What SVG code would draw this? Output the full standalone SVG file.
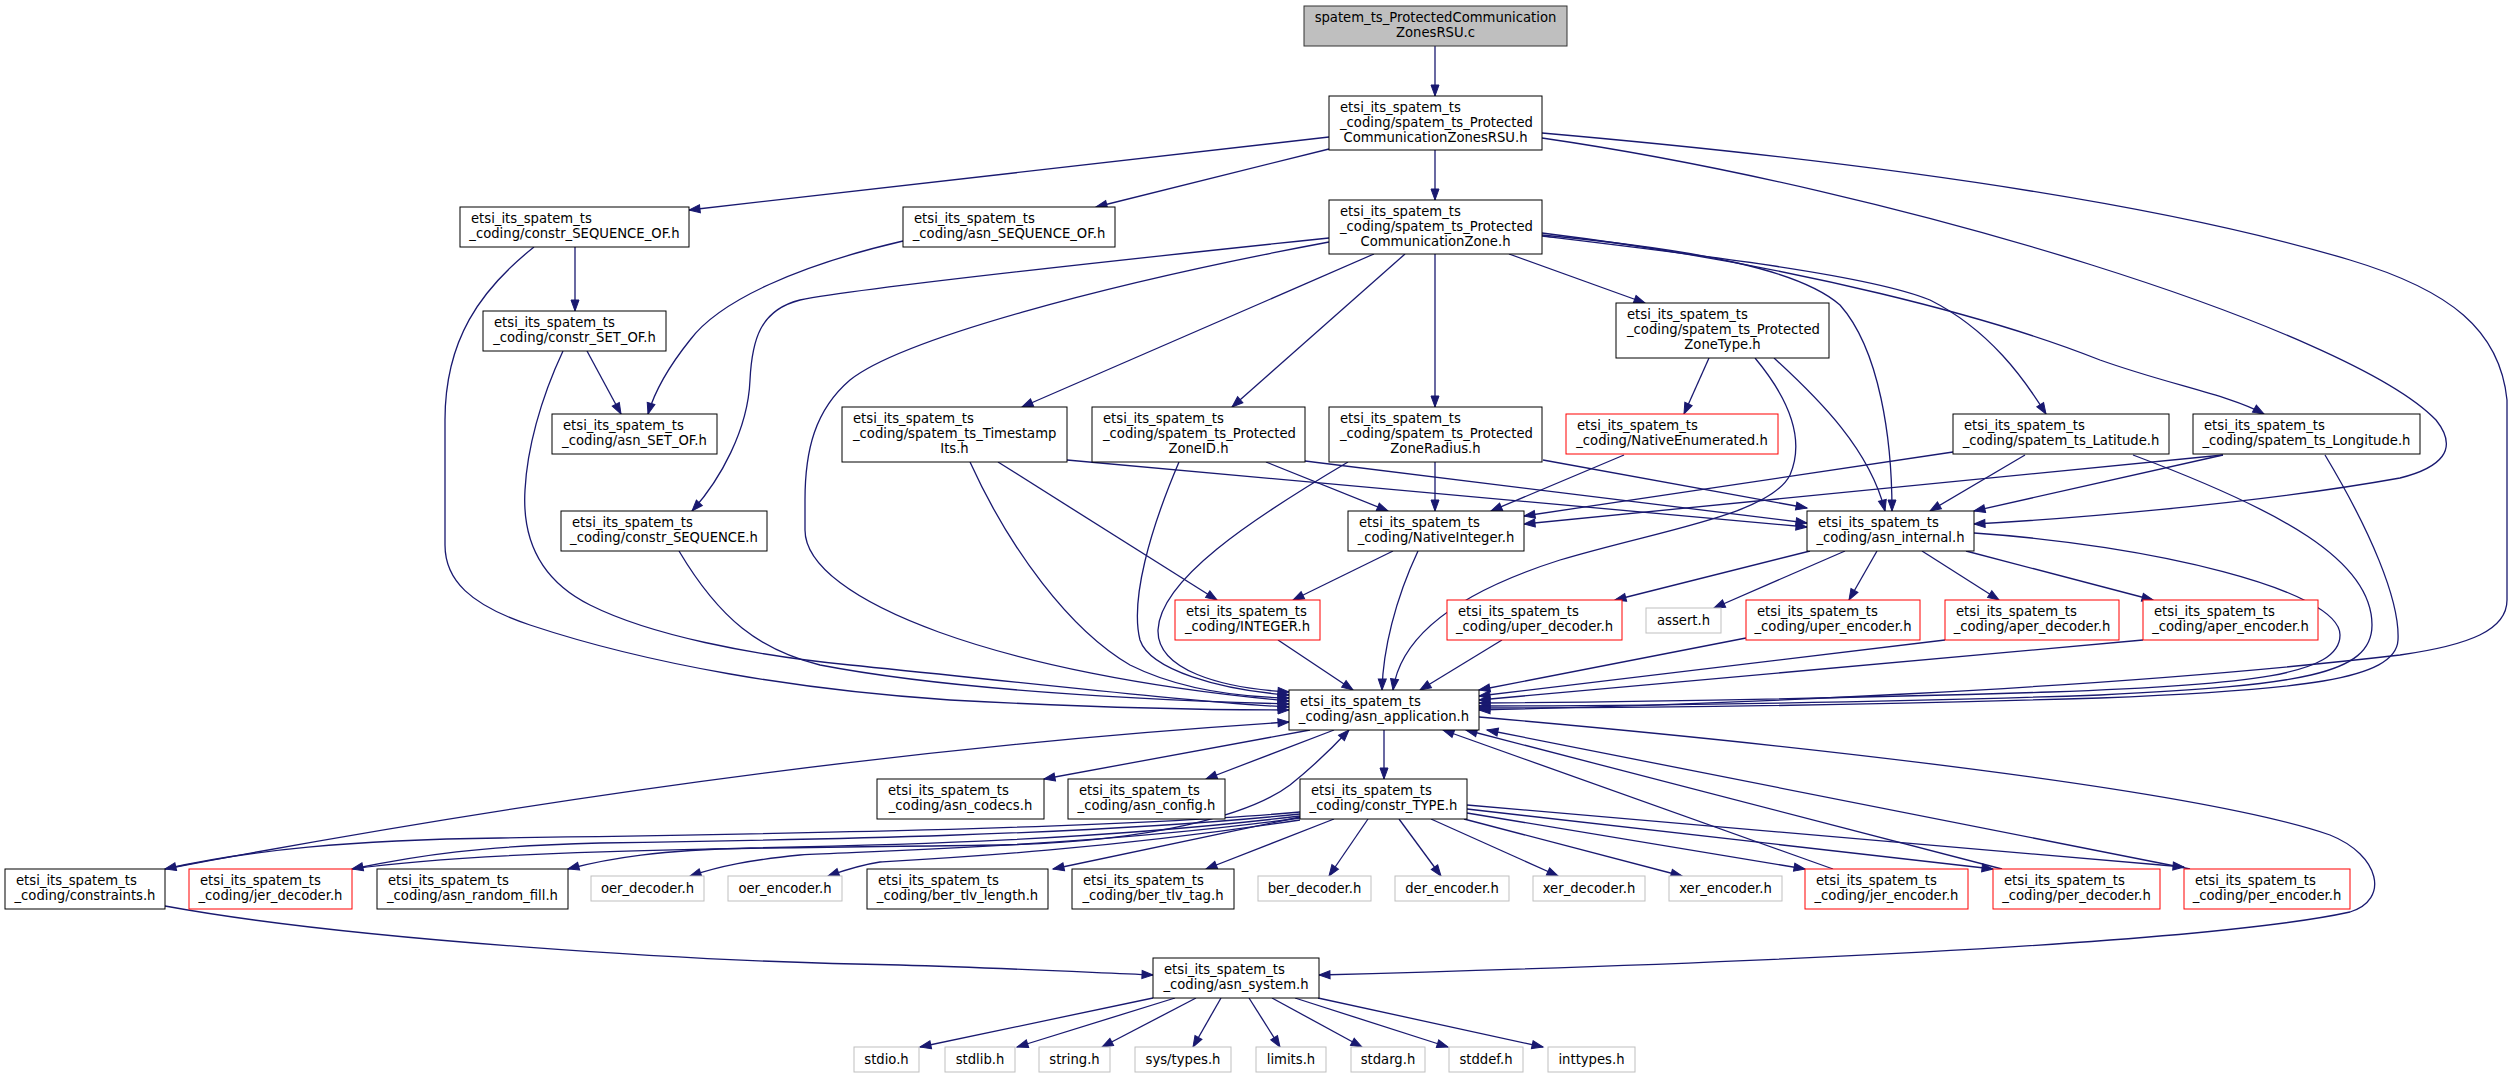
<svg xmlns="http://www.w3.org/2000/svg" width="2513" height="1079" viewBox="0 0 2513 1079">
<style>
rect{fill:#fff;stroke:#000;stroke-width:1}
.root rect{fill:#bfbfbf;stroke:#333}
.r rect{stroke:#f00}
.g rect{stroke:#bfbfbf}
text{font-family:"DejaVu Sans","Liberation Sans",sans-serif;font-size:13.2px;fill:#000}
.m{text-anchor:middle}
#edges path{fill:none;stroke:#191970;stroke-width:1.3;marker-end:url(#a)}
</style>
<defs>
<marker id="a" markerWidth="12" markerHeight="9" refX="11" refY="4" orient="auto" markerUnits="userSpaceOnUse" overflow="visible"><path d="M0,0 L11,4 L0,8 z" fill="#191970" stroke="#191970" stroke-width="1"/></marker>
</defs>
<rect x="0" y="0" width="2513" height="1079" style="fill:#fff;stroke:none"/>
<g id="edges">
<path d="M1435,46 L1435,96"/>
<path d="M1435,150 L1435,200"/>
<path d="M1329,137 L689,210"/>
<path d="M1329,149 L1096,207"/>
<path d="M1542,138 C1900,190 2350,330 2436,420 C2460,450 2440,468 2400,478 C2250,505 2050,520 1974,524"/>
<path d="M1542,133 C1850,160 2150,200 2350,260 C2450,290 2500,330 2507,400 L2507,600 C2507,630 2470,645 2400,655 C2100,690 1700,705 1479,710"/>
<path d="M1329,238 C1100,262 850,290 800,300 C760,310 752,340 750,380 C748,430 720,480 692,511"/>
<path d="M1329,242 C1100,285 900,340 850,380 C815,410 805,450 805,500 L805,530 C805,600 1000,675 1289,701"/>
<path d="M1374,254 L1022,407"/>
<path d="M1405,254 L1232,407"/>
<path d="M1435,254 L1435,407"/>
<path d="M1509,254 L1645,303"/>
<path d="M1542,236 C1700,255 1870,275 1930,300 C1990,330 2025,380 2046,414"/>
<path d="M1542,233 C1800,265 2000,320 2100,360 C2170,385 2230,395 2264,414"/>
<path d="M1542,235 C1700,250 1800,270 1840,305 C1880,350 1892,440 1892,511"/>
<path d="M575,247 L575,311"/>
<path d="M534,247 C480,290 445,340 445,420 L445,545 C445,580 470,605 530,625 C650,665 800,690 950,700 C1100,708 1220,710 1289,710"/>
<path d="M903,241 C800,265 720,300 690,340 C670,365 655,390 648,414"/>
<path d="M587,351 L621,414"/>
<path d="M563,351 C540,400 527,450 525,490 C522,540 540,580 590,605 C650,635 750,655 850,665 C1000,680 1200,703 1289,707"/>
<path d="M679,551 C720,620 760,650 820,665 C950,690 1150,700 1289,704"/>
<path d="M1067,460 L1807,527"/>
<path d="M998,462 L1217,600"/>
<path d="M970,462 C1010,550 1070,630 1130,665 C1180,690 1240,697 1289,698"/>
<path d="M1266,462 L1388,511"/>
<path d="M1305,461 L1807,523"/>
<path d="M1179,462 C1150,530 1130,600 1140,640 C1150,670 1220,690 1289,695"/>
<path d="M1435,462 L1435,511"/>
<path d="M1543,460 L1807,508"/>
<path d="M1348,462 C1250,520 1160,580 1158,630 C1157,670 1220,688 1289,692"/>
<path d="M1709,358 L1684,414"/>
<path d="M1774,358 C1820,400 1870,450 1885,511"/>
<path d="M1755,358 C1790,400 1805,440 1790,475 C1770,515 1660,530 1560,560 C1450,595 1400,640 1393,690"/>
<path d="M1624,455 L1491,511"/>
<path d="M1953,452 L1524,516"/>
<path d="M2025,455 L1930,511"/>
<path d="M2133,455 C2280,510 2372,560 2372,625 C2372,675 2300,685 2100,695 C1900,702 1650,706 1479,706"/>
<path d="M2223,455 L1524,524"/>
<path d="M2223,455 L1974,511"/>
<path d="M2325,455 C2370,530 2400,600 2398,640 C2396,680 2300,690 2100,698 C1900,704 1650,708 1479,708"/>
<path d="M1393,551 L1293,600"/>
<path d="M1418,551 C1395,600 1383,650 1382,690"/>
<path d="M1810,551 L1615,600"/>
<path d="M1845,551 L1714,608"/>
<path d="M1877,551 L1849,600"/>
<path d="M1922,551 L1999,600"/>
<path d="M1966,551 L2153,600"/>
<path d="M1974,533 C2150,545 2340,590 2340,635 C2340,675 2250,685 2050,692 C1850,698 1650,702 1479,703"/>
<path d="M1278,640 L1353,690"/>
<path d="M1502,640 L1420,690"/>
<path d="M1746,638 L1479,690"/>
<path d="M1945,640 L1479,696"/>
<path d="M2143,640 L1479,700"/>
<path d="M1310,730 L1044,779"/>
<path d="M1334,730 L1206,779"/>
<path d="M1384,730 L1384,779"/>
<path d="M1479,717 C1800,745 2200,790 2330,835 C2380,855 2390,900 2350,912 C2200,945 1700,965 1319,975"/>
<path d="M165,869 C450,815 850,750 1289,722"/>
<path d="M165,906 C350,940 700,962 900,965 C1000,968 1080,972 1153,975"/>
<path d="M352,869 C500,848 800,848 1000,845 C1150,842 1250,815 1290,785 C1315,765 1335,745 1349,730"/>
<path d="M1833,869 L1443,730"/>
<path d="M2002,869 L1466,730"/>
<path d="M2190,869 L1487,730"/>
<path d="M1300,812 C1100,830 700,835 500,838 C350,840 250,850 165,869"/>
<path d="M1300,814 C1100,835 800,840 600,843 C480,846 420,855 352,869"/>
<path d="M1300,816 C1100,840 900,845 750,848 C660,850 610,858 568,869"/>
<path d="M1300,818 C1100,845 900,850 800,855 C750,860 720,866 690,876"/>
<path d="M1300,820 C1100,850 950,858 880,862 C860,865 845,870 828,876"/>
<path d="M1300,817 L1053,869"/>
<path d="M1334,819 L1206,869"/>
<path d="M1368,819 L1329,876"/>
<path d="M1399,819 L1441,876"/>
<path d="M1431,819 L1558,876"/>
<path d="M1464,819 L1682,876"/>
<path d="M1467,813 L1805,869"/>
<path d="M1467,809 L1993,869"/>
<path d="M1467,805 L2184,867"/>
<path d="M1153,998 L920,1047"/>
<path d="M1175,998 L1017,1047"/>
<path d="M1196,998 L1102,1047"/>
<path d="M1221,998 L1193,1047"/>
<path d="M1249,998 L1280,1047"/>
<path d="M1272,998 L1362,1047"/>
<path d="M1295,998 L1448,1047"/>
<path d="M1318,998 L1543,1047"/>
</g>
<g id="n0" class="root"><rect x="1304" y="6" width="263" height="40"/><text class="m" x="1435.5" y="21.5">spatem_ts_ProtectedCommunication</text><text class="m" x="1435.5" y="37">ZonesRSU.c</text></g>
<g id="n1"><rect x="1329" y="96" width="213" height="54"/><text x="1340" y="111.5">etsi_its_spatem_ts</text><text x="1340" y="126.5">_coding/spatem_ts_Protected</text><text class="m" x="1435.5" y="141.5">CommunicationZonesRSU.h</text></g>
<g id="n2"><rect x="1329" y="200" width="213" height="54"/><text x="1340" y="215.5">etsi_its_spatem_ts</text><text x="1340" y="230.5">_coding/spatem_ts_Protected</text><text class="m" x="1435.5" y="245.5">CommunicationZone.h</text></g>
<g id="n3"><rect x="460" y="207" width="229" height="40"/><text x="471" y="223">etsi_its_spatem_ts</text><text class="m" x="574.5" y="237.5">_coding/constr_SEQUENCE_OF.h</text></g>
<g id="n4"><rect x="903" y="207" width="212" height="40"/><text x="914" y="223">etsi_its_spatem_ts</text><text class="m" x="1009" y="237.5">_coding/asn_SEQUENCE_OF.h</text></g>
<g id="n5"><rect x="483" y="311" width="183" height="40"/><text x="494" y="327">etsi_its_spatem_ts</text><text class="m" x="574.5" y="341.5">_coding/constr_SET_OF.h</text></g>
<g id="n6"><rect x="552" y="414" width="165" height="40"/><text x="563" y="430">etsi_its_spatem_ts</text><text class="m" x="634.5" y="444.5">_coding/asn_SET_OF.h</text></g>
<g id="n7"><rect x="842" y="407" width="225" height="55"/><text x="853" y="422.5">etsi_its_spatem_ts</text><text x="853" y="437.5">_coding/spatem_ts_Timestamp</text><text class="m" x="954.5" y="452.5">Its.h</text></g>
<g id="n8"><rect x="1092" y="407" width="213" height="55"/><text x="1103" y="422.5">etsi_its_spatem_ts</text><text x="1103" y="437.5">_coding/spatem_ts_Protected</text><text class="m" x="1198.5" y="452.5">ZoneID.h</text></g>
<g id="n9"><rect x="1329" y="407" width="213" height="55"/><text x="1340" y="422.5">etsi_its_spatem_ts</text><text x="1340" y="437.5">_coding/spatem_ts_Protected</text><text class="m" x="1435.5" y="452.5">ZoneRadius.h</text></g>
<g id="n10"><rect x="1616" y="303" width="213" height="55"/><text x="1627" y="318.5">etsi_its_spatem_ts</text><text x="1627" y="333.5">_coding/spatem_ts_Protected</text><text class="m" x="1722.5" y="348.5">ZoneType.h</text></g>
<g id="n11" class="r"><rect x="1566" y="414" width="212" height="40"/><text x="1577" y="430">etsi_its_spatem_ts</text><text class="m" x="1672" y="444.5">_coding/NativeEnumerated.h</text></g>
<g id="n12"><rect x="1953" y="414" width="216" height="40"/><text x="1964" y="430">etsi_its_spatem_ts</text><text class="m" x="2061" y="444.5">_coding/spatem_ts_Latitude.h</text></g>
<g id="n13"><rect x="2193" y="414" width="227" height="40"/><text x="2204" y="430">etsi_its_spatem_ts</text><text class="m" x="2306.5" y="444.5">_coding/spatem_ts_Longitude.h</text></g>
<g id="n14"><rect x="561" y="511" width="206" height="40"/><text x="572" y="527">etsi_its_spatem_ts</text><text class="m" x="664" y="541.5">_coding/constr_SEQUENCE.h</text></g>
<g id="n15"><rect x="1348" y="511" width="176" height="40"/><text x="1359" y="527">etsi_its_spatem_ts</text><text class="m" x="1436" y="541.5">_coding/NativeInteger.h</text></g>
<g id="n16"><rect x="1807" y="511" width="167" height="40"/><text x="1818" y="527">etsi_its_spatem_ts</text><text class="m" x="1890.5" y="541.5">_coding/asn_internal.h</text></g>
<g id="n17" class="r"><rect x="1175" y="600" width="145" height="40"/><text x="1186" y="616">etsi_its_spatem_ts</text><text class="m" x="1247.5" y="630.5">_coding/INTEGER.h</text></g>
<g id="n18" class="r"><rect x="1447" y="600" width="175" height="40"/><text x="1458" y="616">etsi_its_spatem_ts</text><text class="m" x="1534.5" y="630.5">_coding/uper_decoder.h</text></g>
<g id="n19" class="g"><rect x="1646" y="608" width="75" height="25"/><text class="m" x="1683.5" y="625">assert.h</text></g>
<g id="n20" class="r"><rect x="1746" y="600" width="174" height="40"/><text x="1757" y="616">etsi_its_spatem_ts</text><text class="m" x="1833" y="630.5">_coding/uper_encoder.h</text></g>
<g id="n21" class="r"><rect x="1945" y="600" width="174" height="40"/><text x="1956" y="616">etsi_its_spatem_ts</text><text class="m" x="2032" y="630.5">_coding/aper_decoder.h</text></g>
<g id="n22" class="r"><rect x="2143" y="600" width="175" height="40"/><text x="2154" y="616">etsi_its_spatem_ts</text><text class="m" x="2230.5" y="630.5">_coding/aper_encoder.h</text></g>
<g id="n23"><rect x="1289" y="690" width="190" height="40"/><text x="1300" y="706">etsi_its_spatem_ts</text><text class="m" x="1384" y="720.5">_coding/asn_application.h</text></g>
<g id="n24"><rect x="877" y="779" width="167" height="40"/><text x="888" y="795">etsi_its_spatem_ts</text><text class="m" x="960.5" y="809.5">_coding/asn_codecs.h</text></g>
<g id="n25"><rect x="1068" y="779" width="157" height="40"/><text x="1079" y="795">etsi_its_spatem_ts</text><text class="m" x="1146.5" y="809.5">_coding/asn_config.h</text></g>
<g id="n26"><rect x="1300" y="779" width="167" height="40"/><text x="1311" y="795">etsi_its_spatem_ts</text><text class="m" x="1383.5" y="809.5">_coding/constr_TYPE.h</text></g>
<g id="n27"><rect x="5" y="869" width="160" height="40"/><text x="16" y="885">etsi_its_spatem_ts</text><text class="m" x="85" y="899.5">_coding/constraints.h</text></g>
<g id="n28" class="r"><rect x="189" y="869" width="163" height="40"/><text x="200" y="885">etsi_its_spatem_ts</text><text class="m" x="270.5" y="899.5">_coding/jer_decoder.h</text></g>
<g id="n29"><rect x="377" y="869" width="191" height="40"/><text x="388" y="885">etsi_its_spatem_ts</text><text class="m" x="472.5" y="899.5">_coding/asn_random_fill.h</text></g>
<g id="n30" class="g"><rect x="591" y="876" width="113" height="25"/><text class="m" x="647.5" y="893">oer_decoder.h</text></g>
<g id="n31" class="g"><rect x="728" y="876" width="114" height="25"/><text class="m" x="785" y="893">oer_encoder.h</text></g>
<g id="n32"><rect x="867" y="869" width="181" height="40"/><text x="878" y="885">etsi_its_spatem_ts</text><text class="m" x="957.5" y="899.5">_coding/ber_tlv_length.h</text></g>
<g id="n33"><rect x="1072" y="869" width="162" height="40"/><text x="1083" y="885">etsi_its_spatem_ts</text><text class="m" x="1153" y="899.5">_coding/ber_tlv_tag.h</text></g>
<g id="n34" class="g"><rect x="1258" y="876" width="113" height="25"/><text class="m" x="1314.5" y="893">ber_decoder.h</text></g>
<g id="n35" class="g"><rect x="1395" y="876" width="114" height="25"/><text class="m" x="1452" y="893">der_encoder.h</text></g>
<g id="n36" class="g"><rect x="1533" y="876" width="112" height="25"/><text class="m" x="1589" y="893">xer_decoder.h</text></g>
<g id="n37" class="g"><rect x="1669" y="876" width="113" height="25"/><text class="m" x="1725.5" y="893">xer_encoder.h</text></g>
<g id="n38" class="r"><rect x="1805" y="869" width="163" height="40"/><text x="1816" y="885">etsi_its_spatem_ts</text><text class="m" x="1886.5" y="899.5">_coding/jer_encoder.h</text></g>
<g id="n39" class="r"><rect x="1993" y="869" width="167" height="40"/><text x="2004" y="885">etsi_its_spatem_ts</text><text class="m" x="2076.5" y="899.5">_coding/per_decoder.h</text></g>
<g id="n40" class="r"><rect x="2184" y="869" width="166" height="40"/><text x="2195" y="885">etsi_its_spatem_ts</text><text class="m" x="2267" y="899.5">_coding/per_encoder.h</text></g>
<g id="n41"><rect x="1153" y="958" width="166" height="40"/><text x="1164" y="974">etsi_its_spatem_ts</text><text class="m" x="1236" y="988.5">_coding/asn_system.h</text></g>
<g id="n42" class="g"><rect x="854" y="1047" width="65" height="25"/><text class="m" x="886.5" y="1064">stdio.h</text></g>
<g id="n43" class="g"><rect x="945" y="1047" width="70" height="25"/><text class="m" x="980" y="1064">stdlib.h</text></g>
<g id="n44" class="g"><rect x="1039" y="1047" width="71" height="25"/><text class="m" x="1074.5" y="1064">string.h</text></g>
<g id="n45" class="g"><rect x="1135" y="1047" width="96" height="25"/><text class="m" x="1183" y="1064">sys/types.h</text></g>
<g id="n46" class="g"><rect x="1256" y="1047" width="70" height="25"/><text class="m" x="1291" y="1064">limits.h</text></g>
<g id="n47" class="g"><rect x="1351" y="1047" width="74" height="25"/><text class="m" x="1388" y="1064">stdarg.h</text></g>
<g id="n48" class="g"><rect x="1449" y="1047" width="74" height="25"/><text class="m" x="1486" y="1064">stddef.h</text></g>
<g id="n49" class="g"><rect x="1548" y="1047" width="87" height="25"/><text class="m" x="1591.5" y="1064">inttypes.h</text></g>
</svg>
